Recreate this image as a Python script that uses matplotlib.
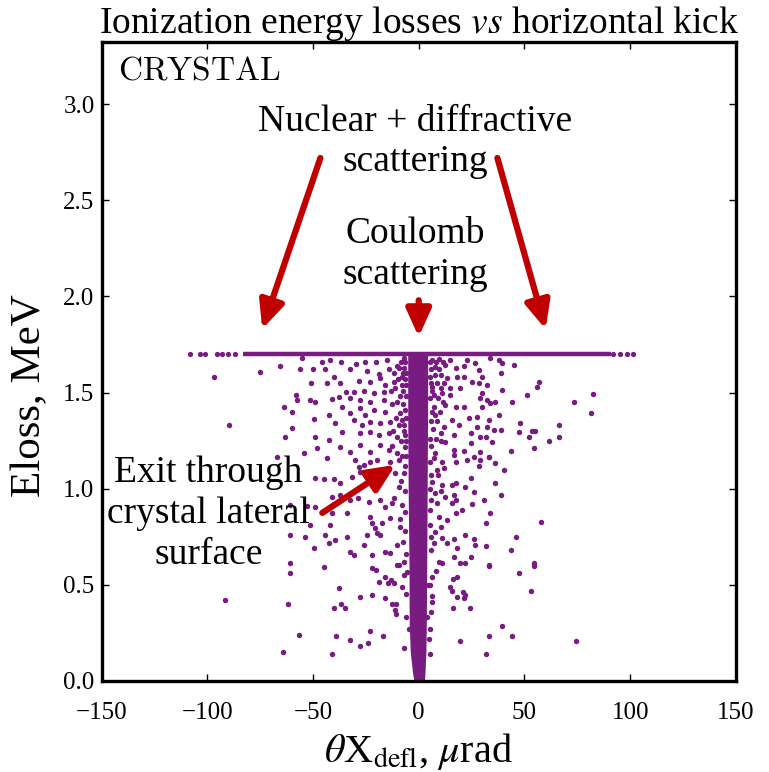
import matplotlib
matplotlib.use("Agg")
import matplotlib.pyplot as plt

plt.rcParams['font.family'] = ['Liberation Serif', 'DejaVu Serif']
plt.rcParams['mathtext.fontset'] = 'stix'

# Scattered events: horizontal kick (urad) and ionization energy loss (MeV)
kick_urad = [
    # upper left
    -65.8, -55.2, -56.0, -50.0, -45.8, -44.2, -41.8, -36.8, -32.6, -29.5, -25.2, -24.5, -20.0, -18.9, -15.0, -14.2, -10.3, -7.1,
    -50.8, -43.4, -40.2, -37.0, -28.4, -22.9, -18.2, -15.8, -11.9, -7.9,
    -34.2, -30.8, -25.7, -21.3, -16.6, -11.1,
    -57.9, -57.6, -51.6, -48.9, -41.0, -37.9, -32.3, -27.6, -22.9, -16.6, -10.3,
    -63.6, -60.0, -42.6, -36.3, -32.3, -27.6, -25.2, -21.3, -15.8, -8.7,
    -49.7, -39.4, -30.8, -26.8, -22.9, -18.2, -13.4, -7.9,
    -60.0, -63.1, -48.9, -42.6, -36.3, -27.6, -22.9, -18.9, -14.2, -10.3, -6.3,
    -54.4, -48.1, -37.1, -32.3, -27.6, -22.9, -18.2, -14.2, -10.3, -6.3, -43.4,
    -97.0, -74.9, -89.9, -67.0,
    # upper right
    6.3, 9.5, 15.0, 22.9, 26.8, 33.9, 37.9, 39.4, 45.0,
    7.9, 12.6, 17.4, 21.3, 28.4, 38.7,
    5.5, 13.4, 18.1, 21.3, 30.0,
    6.3, 10.3, 15.0, 19.7, 25.3, 28.4, 32.3, 39.4, 51.3, 56.8, 56.0,
    7.1, 11.0, 15.0, 30.0, 29.2, 32.3, 36.3, 44.2,
    7.1, 12.6, 17.4, 21.3, 30.0, 33.9,
    7.9, 15.8, 23.7, 27.6, 33.1, 37.9,
    11.8, 18.9, 27.6, 32.3, 35.5, 38.7, 48.1, 53.6, 55.2, 66.3,
    10.3, 16.6, 24.5, 29.2, 31.6, 47.3, 52.1, 66.3, 61.5,
    10.3, 12.6, 24.5, 34.7, 54.4, 43.4, 16.6, 21.3, 29.2, 7.9, 26.0, 33.1, 16.6,
    82.5, 73.4, 81.3,
    # middle left
    -48.9, -45.0, -40.2, -37.1, -31.6, -27.6, -30.0, -22.9, -19.7, -13.4, -9.5, -26.0, -28.4, -23.7,
    -41.0, -37.1, -32.3, -28.9, -23.7, -18.2, -15.8, -12.6, -9.5, -7.9,
    -52.9, -48.9, -60.7,
    -51.3, -41.0, -33.9, -22.9, -22.1, -20.5, -17.4, -13.4, -8.7,
    -60.7, -53.6, -44.2, -41.8, -33.9, -24.5, -19.7, -18.2,
    -26.0, -42.6, -39.4, -32.3, -30.8, -22.1, -15.8, -13.4, -10.3, -7.1,
    -49.7, -60.7, -45.0, -9.5,
    # middle right
    7.1, 11.1, 11.8, 8.7, 17.4, 22.9, 29.2, 28.4, 33.1, 36.3, 40.2,
    6.3, 11.0, 15.8, 17.4, 22.1, 24.5, 36.3,
    7.9, 10.3, 12.6, 16.6, 17.4, 26.0, 30.8, 38.7,
    8.7, 15.8, 20.5, 25.3, 17.4, 9.5, 13.4, 33.9, 31.6, 57.6,
    5.5, 7.9, 22.1, 26.0, 11.0, 16.6, 13.4, 7.1, 18.1, 26.8, 31.6, 45.8, 43.4,
    24.5, 16.6, 9.5, 11.0, 19.7, 22.1, 33.1, 54.4,
    # lower left
    -61.0, -62.0, -56.8, -64.2, -41.0, -39.0, -32.3, -27.9, -24.0, -22.9, -16.9, -7.1, -4.7,
    -37.9, -40.2, -36.8, -34.7, -27.9, -22.1, -15.8, -12.6, -10.6, -11.1, -10.6, -5.8,
    -22.1, -20.0, -18.9, -15.8, -14.7, -13.1, -11.5, -7.9, -10.3, -5.5,
    -91.5,
    # lower right
    6.3, 4.3, 16.3, 18.2, 15.0, 15.8, 21.0, 22.1, 18.2, 21.3, 6.3, 16.3, 24.1,
    33.1, 47.3, 53.3, 4.0, 5.2, 39.4, 33.1, 44.2, 19.4, 31.6, 54.4,
    74.2,
    # just left of the core
    -8.5, -6.5, -9.2, -6.8, -11.5, -7.5, -6.0, -9.8, -6.5, -8.0, -6.2, -13.2, -7.2, -9.0, -6.2,
    -12.5, -7.5, -6.5, -10.8, -6.2, -9.5, -6.8, -12.0, -7.0, -8.5, -6.0, -12.4, -8.0, -6.2,
    -6.5, -11.0, -6.8, -8.2, -6.3, -11.5, -6.5, -9.0, -6.3, -7.5, -6.0, -6.8, -6.2,
    # just right of the core
    5.5, 8.0, 11.5, 6.0, 9.5, 7.5, 10.5, 5.8, 8.8, 12.0, 6.5, 5.5, 9.0, 11.5, 6.2, 10.0,
    5.8, 8.5, 6.8, 5.5, 8.0, 6.0, 5.5, 6.0, 9.0, 5.5, 6.0, 5.5, 10.5, 5.8, 6.0, 8.0,
    5.5, 6.5, 5.8, 5.0, 5.5,
]

eloss_mev = [
    # upper left
    1.64, 1.68, 1.62, 1.62, 1.66, 1.62, 1.67, 1.66, 1.62, 1.65, 1.66, 1.61, 1.66, 1.595, 1.67, 1.62, 1.64, 1.68,
    1.55, 1.55, 1.58, 1.55, 1.56, 1.557, 1.575, 1.54, 1.557, 1.58,
    1.505, 1.505, 1.51, 1.497, 1.505, 1.522,
    1.488, 1.462, 1.462, 1.45, 1.467, 1.479, 1.47, 1.462, 1.453, 1.462, 1.453,
    1.427, 1.40, 1.384, 1.427, 1.392, 1.418, 1.384, 1.41, 1.40, 1.392,
    1.363, 1.34, 1.358, 1.332, 1.349, 1.34, 1.349, 1.358,
    1.314, 1.271, 1.271, 1.254, 1.294, 1.288, 1.294, 1.28, 1.288, 1.271, 1.28,
    1.184, 1.21, 1.219, 1.193, 1.228, 1.193, 1.228, 1.202, 1.184, 1.219, 1.158,
    1.583, 1.609, 1.332, 1.167,
    # upper right
    1.67, 1.675, 1.67, 1.67, 1.653, 1.679, 1.67, 1.653, 1.644,
    1.635, 1.644, 1.627, 1.64, 1.618, 1.60,
    1.583, 1.575, 1.583, 1.583, 1.583,
    1.53, 1.522, 1.522, 1.522, 1.557, 1.548, 1.54, 1.514, 1.488, 1.557, 1.531,
    1.488, 1.496, 1.488, 1.496, 1.47, 1.462, 1.453, 1.453,
    1.427, 1.436, 1.427, 1.427, 1.427, 1.444,
    1.384, 1.358, 1.366, 1.375, 1.358, 1.384,
    1.323, 1.332, 1.323, 1.323, 1.306, 1.306, 1.34, 1.30, 1.30, 1.332,
    1.288, 1.28, 1.288, 1.271, 1.271, 1.297, 1.271, 1.271, 1.248,
    1.248, 1.245, 1.237, 1.245, 1.21, 1.197, 1.202, 1.197, 1.193, 1.184, 1.167, 1.167, 1.175,
    1.493, 1.452, 1.393,
    # middle left
    1.054, 1.051, 1.051, 1.029, 1.063, 1.089, 1.15, 1.141, 1.15, 1.141, 1.15, 1.124, 1.115, 1.08,
    0.959, 0.968, 0.942, 0.951, 0.933, 0.942, 0.907, 0.925, 1.011, 0.916,
    0.912, 0.907, 0.916,
    0.812, 0.872, 0.872, 0.855, 0.82, 0.794, 0.82, 0.846, 0.803,
    0.76, 0.751, 0.76, 0.812, 0.751, 0.76, 0.768, 0.76,
    0.708, 0.716, 0.734, 0.673, 0.656, 0.656, 0.673, 0.664, 0.708, 0.621,
    0.69, 0.612, 0.595, 0.604,
    # middle right
    1.159, 1.141, 1.107, 1.098, 1.141, 1.15, 1.15, 1.12, 1.167, 1.133, 1.098,
    1.037, 1.02, 1.02, 1.029, 1.011, 1.058, 1.029,
    0.977, 0.989, 0.959, 0.968, 0.942, 0.982, 0.942, 0.968,
    0.925, 0.925, 0.89, 0.92, 0.872, 0.855, 0.838, 0.872, 0.82, 0.829,
    0.812, 0.777, 0.76, 0.739, 0.742, 0.739, 0.716, 0.716, 0.69, 0.708, 0.704, 0.751, 0.682,
    0.647, 0.642, 0.621, 0.612, 0.612, 0.612, 0.604, 0.612,
    # lower left
    0.56, 0.399, 0.239, 0.149, 0.139, 0.231, 0.213, 0.179, 0.199, 0.26, 0.231, 0.17, 0.269,
    0.482, 0.381, 0.399, 0.378, 0.439, 0.447, 0.43, 0.399, 0.399, 0.369, 0.347, 0.33,
    0.586, 0.577, 0.513, 0.538, 0.508, 0.525, 0.508, 0.491, 0.6035, 0.569,
    0.421,
    # lower right
    0.538, 0.499, 0.53, 0.538, 0.491, 0.468, 0.461, 0.447, 0.439, 0.43, 0.409, 0.378, 0.378,
    0.60, 0.56, 0.468, 0.335, 0.27, 0.283, 0.231, 0.231, 0.208, 0.139, 0.60,
    0.21,
    # just left of the core
    1.66, 1.66, 1.63, 1.63, 1.60, 1.60, 1.60, 1.57, 1.57, 1.54, 1.54, 1.51, 1.51, 1.48, 1.48,
    1.44, 1.44, 1.41, 1.37, 1.37, 1.33, 1.33, 1.30, 1.30, 1.25, 1.25, 1.22, 1.17, 1.17,
    1.12, 1.08, 1.08, 1.04, 0.99, 0.95, 0.88, 0.84, 0.78, 0.72, 0.66, 0.55, 0.45,
    # just right of the core
    1.66, 1.66, 1.66, 1.62, 1.62, 1.59, 1.59, 1.55, 1.55, 1.55, 1.51, 1.47, 1.47, 1.45, 1.40, 1.40,
    1.35, 1.35, 1.31, 1.26, 1.26, 1.22, 1.14, 1.07, 1.07, 1.00, 0.94, 0.89, 0.80, 0.75, 0.68, 0.57,
    0.50, 0.44, 0.36, 0.22, 0.14,
]

# Events at the energy-loss ceiling (full crystal length traversed)
ceiling_mev = 1.70
ceiling_band = (-83.0, 91.0)
ceiling_kick = [-108.0, -103.2, -101.0, -95.3, -93.0, -90.0, -86.7, 92.0, 95.0, 98.5, 101.5]

# Dense core of small-angle Coulomb scattering: extent of the band vs energy loss
core_eloss = [0.0, 0.05, 0.15, 0.3, 0.6, 1.0, 1.4, 1.7]
core_left = [-2.3, -3.0, -4.0, -4.5, -4.6, -5.0, -5.2, -5.2]
core_right = [2.7, 3.0, 3.4, 3.6, 3.8, 4.0, 4.2, 4.2]

x_ticks = [-150, -100, -50, 0, 50, 100, 150]
y_ticks = [0.0, 0.5, 1.0, 1.5, 2.0, 2.5, 3.0]

purple = '#781c81'
arrow_red = '#c00000'

fig = plt.figure(figsize=(7.69, 7.72), dpi=100)
ax = fig.add_axes([0.132, 0.118, 0.825, 0.828])

ax.fill_betweenx(core_eloss, core_left, core_right, color=purple, lw=0, zorder=2)
ax.plot(ceiling_band, [ceiling_mev, ceiling_mev], color=purple, lw=3.2,
        solid_capstyle='butt', zorder=2)
ax.plot(ceiling_kick, [ceiling_mev] * len(ceiling_kick), 'o', color=purple,
        ms=3.8, mec='none', zorder=2)
ax.plot(kick_urad, eloss_mev, 'o', color=purple, ms=3.9, mec='none', zorder=2)

ax.set_xlim(-150, 150)
ax.set_ylim(0, 3.325)
ax.set_xticks(x_ticks)
ax.set_xticklabels(['\u2212150', '\u2212100', '\u221250', '0', '50', '100', '150'])
ax.set_yticks(y_ticks)
ax.set_yticklabels([f'{v:.1f}' for v in y_ticks])
ax.tick_params(direction='in', length=5, width=1.0, labelsize=18,
               top=True, right=True)
ax.tick_params(axis='x', pad=15)
ax.tick_params(axis='y', pad=5)
for s in ax.spines.values():
    s.set_linewidth(2.4)

ax.set_title(r'Ionization energy losses $\it{vs}$ horizontal kick', fontsize=27, pad=6)
ax.set_xlabel(r'$\theta$X$_{\rm defl}$, $\mu$rad', fontsize=29, labelpad=5)
ax.set_ylabel('Eloss, MeV', fontsize=31)
ax.yaxis.set_label_coords(-0.083, 0.447)

ax.text(-142, 3.17, r'$\mathrm{CRYSTAL}$', fontsize=24, ha='left', va='center',
        math_fontfamily='cm')
ax.text(-1.5, 2.805, 'Nuclear + diffractive\nscattering', fontsize=27,
        ha='center', va='center', linespacing=1.22)
ax.text(-1.5, 2.22, 'Coulomb\nscattering', fontsize=27,
        ha='center', va='center', linespacing=1.22)
ax.text(-99.5, 0.87, 'Exit through\ncrystal lateral\nsurface', fontsize=27,
        ha='center', va='center', linespacing=1.24)

arrows = [((-46.5, 2.72), (-74.0, 1.83)),
          ((37.2, 2.72), (60.0, 1.83)),
          ((0.0, 1.98), (0.0, 1.79)),
          ((-45.6, 0.874), (-11.0, 1.124))]
for start, end in arrows:
    ax.annotate('', xy=end, xytext=start,
                arrowprops=dict(arrowstyle='-|>,head_length=1.1,head_width=0.5',
                                mutation_scale=15, color=arrow_red, lw=4.5,
                                shrinkA=0, shrinkB=0),
                zorder=5)

fig.savefig('out.png', dpi=100)
